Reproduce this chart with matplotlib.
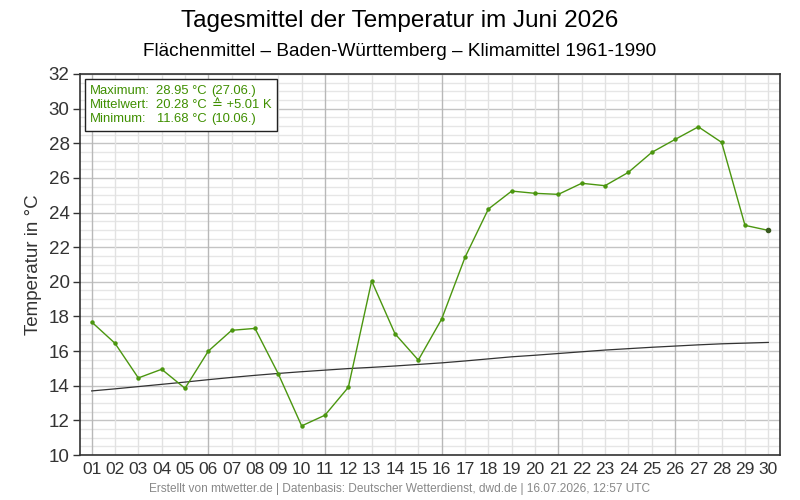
import numpy as np
import matplotlib.pyplot as plt
from matplotlib.ticker import MultipleLocator
from matplotlib.patches import Rectangle

plt.rcParams['font.family'] = ['Liberation Sans', 'DejaVu Sans']

# Tagesmittel Juni 2026 (Flächenmittel Baden-Württemberg)
days = np.arange(1, 31)
temp = [17.68, 16.45, 14.45, 14.95, 13.85, 16.00, 17.20, 17.31, 14.68, 11.68,
        12.30, 13.91, 20.05, 17.00, 15.48, 17.85, 21.41, 24.20, 25.24, 25.11,
        25.05, 25.69, 25.55, 26.32, 27.47, 28.22, 28.95, 28.05, 23.26, 22.97]
# Klimamittel 1961-1990
clim = [13.70, 13.82, 13.95, 14.08, 14.21, 14.35, 14.48, 14.60, 14.71, 14.81,
        14.90, 14.99, 15.06, 15.14, 15.23, 15.32, 15.43, 15.55, 15.67, 15.76,
        15.86, 15.96, 16.06, 16.14, 16.22, 16.29, 16.36, 16.42, 16.46, 16.50]
xlabels = ['%02d' % d for d in days]

green = '#4b960f'
tgreen = '#3f8f00'

fig = plt.figure(figsize=(8, 5), dpi=100)
ax = fig.add_axes([0.1, 0.09, 0.875, 0.762])

ax.plot(days, clim, color='#333333', lw=0.9, zorder=3)
ax.plot(days, temp, color=green, lw=1.0, marker='o', ms=2.2, zorder=4)
ax.plot(days[-1], temp[-1], 'o', color='#3a5a20', ms=3, zorder=5)

ax.set_xlim(0.5, 30.5)
ax.set_ylim(10, 32)
ax.set_xticks(days)
ax.set_xticklabels(xlabels)
ax.yaxis.set_major_locator(MultipleLocator(2))
ax.yaxis.set_minor_locator(MultipleLocator(0.5))
ax.tick_params(axis='x', length=0, pad=5, labelsize=12.5)
ax.tick_params(axis='y', which='major', length=5, width=1, pad=2.5, labelsize=13.5, colors='#333333')
ax.tick_params(axis='y', which='minor', length=0)
ax.tick_params(axis='both', labelcolor='#333333')

# Gitter
for d in days:
    ax.axvline(d, color='#b8b8b8' if (d - 1) % 5 == 0 else '#e2e2e2', lw=1, zorder=1)
ax.grid(axis='y', which='major', color='#c4c4c4', lw=1, zorder=1)
ax.grid(axis='y', which='minor', color='#e6e6e6', lw=1, zorder=0)
ax.set_axisbelow(True)
for s in ax.spines.values():
    s.set_color('#333333')
    s.set_linewidth(1.2)

ax.set_ylabel('Temperatur in °C', fontsize=13.5, color='#333333', labelpad=5)

# Statistik-Box
tmax = max(temp)
tmin = min(temp)
tmean = np.mean(temp)
anom = tmean - np.mean(clim)
imax = int(np.argmax(temp)) + 1
imin = int(np.argmin(temp)) + 1
ax.add_patch(Rectangle((0.007, 0.85), 0.274, 0.137, transform=ax.transAxes,
                       facecolor='white', edgecolor='#222222', lw=1, zorder=6))
rows = [('Maximum:', '%.2f °C' % tmax, '(%02d.06.)' % imax),
        ('Mittelwert:', '%.2f °C' % tmean, '≙ +%.2f K' % anom),
        ('Minimum:', '%.2f °C' % tmin, '(%02d.06.)' % imin)]
for i, (a, b, c) in enumerate(rows):
    y = 0.955 - i * 0.0367
    kw = dict(transform=ax.transAxes, fontsize=9.4, color=tgreen, va='center', zorder=7)
    ax.text(0.0143, y, a, ha='left', **kw)
    ax.text(0.1805, y, b, ha='right', **kw)
    ax.text(0.188, y, c, ha='left', **kw)

fig.text(0.5, 0.958, 'Tagesmittel der Temperatur im Juni 2026', ha='center', va='center',
         fontsize=17.5, color='black')
fig.text(0.5, 0.898, 'Flächenmittel – Baden-Württemberg – Klimamittel 1961-1990',
         ha='center', va='center', fontsize=13.7, color='black')
fig.text(0.5, 0.022, 'Erstellt von mtwetter.de | Datenbasis: Deutscher Wetterdienst, dwd.de | 16.07.2026, 12:57 UTC',
         ha='center', va='center', fontsize=8.6, color='#888888')

fig.savefig('out.png', dpi=100)
